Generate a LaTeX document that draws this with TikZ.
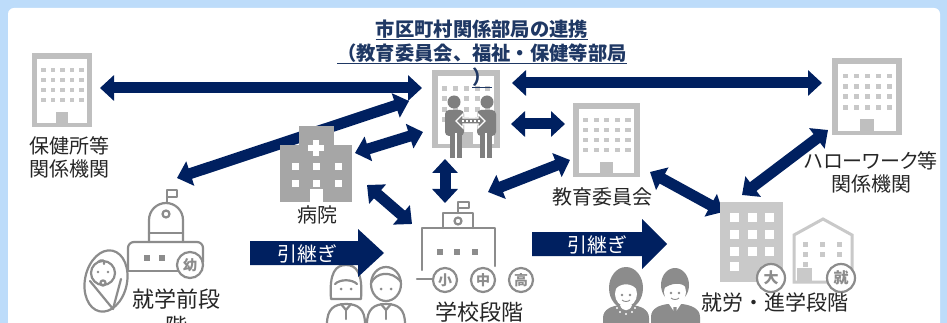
\documentclass[tikz,border=0pt]{standalone}
\usepackage{fontspec}
\setmainfont{Noto Sans CJK JP}
\newfontfamily\jpprop{Noto Sans CJK JP}[RawFeature=+palt]
\usetikzlibrary{arrows.meta}

\definecolor{navy}{HTML}{002060}
\definecolor{ttl}{HTML}{1F3864}
\definecolor{bgblue}{HTML}{BDDCFA}
\definecolor{bgray}{HTML}{BFBFBF}
\definecolor{wgray}{HTML}{C8C8C8}
\definecolor{hgray}{HTML}{A6A6A6}
\definecolor{dgray}{HTML}{7F7F7F}
\definecolor{ogray}{HTML}{8C8C8C}
\definecolor{lgray}{HTML}{C9C9C9}
\definecolor{txt}{HTML}{262626}

\tikzset{
  link/.style={draw=navy, line width=11pt,
    {Triangle[width=25pt,length=14pt]}-{Triangle[width=25pt,length=14pt]}},
  lbl/.style={text=txt, font=\fontsize{20}{23}\selectfont, align=center, inner sep=0pt},
  badge/.style={circle, draw=ogray, fill=white, line width=2.2pt, minimum size=#1,
    inner sep=0pt, text=ogray, font=\fontsize{14}{14}\selectfont\bfseries},
  badge/.default=24pt,
  ttlline/.style={text=ttl, font=\fontsize{19.3}{19.3}\selectfont\bfseries, inner sep=0pt, anchor=base},
  uline/.style={draw=ttl, line width=1.2pt},
  outl/.style={draw=ogray, line width=2.2pt, line cap=round, line join=round},
  handover/.style={fill=navy},
  hotext/.style={text=white, font=\fontsize{20}{20}\selectfont, inner sep=0pt},
}

% office building icon: left, top, width, height
\newcommand\drawoffice[4]{%
  \begin{scope}[shift={(#1,#2)},xscale=#3/60,yscale=#4/74]
    \fill[bgray] (0,0) rectangle (60,74);
    \fill[white] (5,6) rectangle (55,70);
    \foreach \cx in {9,18.5,28,37.5,47}{\foreach \cy in {15,25,35,45}{%
      \fill[wgray] (\cx,\cy) rectangle ++(4.5,4.5);}}
    \fill[bgray] (24,59) rectangle (36,70);
  \end{scope}}

\begin{document}
\begin{tikzpicture}[x=1pt,y=-1pt]
\useasboundingbox (0,0) rectangle (947,323);
\clip (0,0) rectangle (947,323);
\fill[bgblue] (0,0) rectangle (947,323);
\fill[white, rounded corners=6pt] (8,8) rectangle (940,340);

% ---- connector end points
\coordinate (hoken-e) at (100,88);
\coordinate (city-w)  at (422,88);
\coordinate (city-e)  at (512,83);
\coordinate (hello-w) at (822,83);
\coordinate (pre-ne)  at (177,178);
\coordinate (city-sw) at (409,101);
\coordinate (hosp-e)  at (355,153);
\coordinate (city-w2) at (423,132);
\coordinate (hosp-se) at (367,185);
\coordinate (school-nw) at (412,224);
\coordinate (city-s)  at (445,159);
\coordinate (school-n) at (445,203);
\coordinate (city-e2) at (511,124);
\coordinate (board-w) at (565,124);
\coordinate (school-ne) at (488,192);
\coordinate (board-sw) at (570,160);
\coordinate (board-se) at (650,172);
\coordinate (work-nw) at (723,212);
\coordinate (work-ne) at (742,195);
\coordinate (hello-sw) at (828,130);

% ---- two-way links
\draw[link] (hoken-e) -- (city-w);
\draw[link] (city-e) -- (hello-w);
\draw[link] (pre-ne) -- (city-sw);
\draw[link] (hosp-e) -- (city-w2);
\draw[link] (hosp-se) -- (school-nw);
\draw[link] (city-s) -- (school-n);
\draw[link] (city-e2) -- (board-w);
\draw[link] (school-ne) -- (board-sw);
\draw[link] (board-se) -- (work-nw);
\draw[link] (work-ne) -- (hello-sw);

% ---- office buildings
\drawoffice{32}{53}{60}{74}
\drawoffice{832}{58}{70}{77}
\drawoffice{573}{103}{67}{74}
\drawoffice{432}{70}{68}{78}

% ---- two staff members in the municipal office
\begin{scope}[dgray]
  \fill (454,102) circle (6.5);
  \fill (487,102) circle (6.5);
  \fill[rounded corners=4pt] (445,110) rectangle (464,136);
  \fill[rounded corners=4pt] (477,110) rectangle (496,136);
  \fill (450,132) rectangle (462,158);
  \fill (480,132) rectangle (492,158);
\end{scope}
\draw[white, line width=1.2pt] (456,133) -- (456,158) (486,133) -- (486,158);
\filldraw[fill=dgray, draw=white, line width=1.4pt]
  (456,121) -- (463,114) -- (463,118) -- (478,118) -- (478,114) -- (485,121)
  -- (478,128) -- (478,124) -- (463,124) -- (463,128) -- cycle;
\draw[white, line width=1.2pt, dash pattern=on 2pt off 2pt] (462,121) -- (480,121);

% ---- hospital
\fill[hgray] (299,126) rectangle (334,146);
\fill[hgray] (280,145) rectangle (352,202);
\fill[white] (313,140) rectangle (319,156);
\fill[white] (308,145) rectangle (324,151);
\foreach \wx in {292,313,335}{\foreach \wy in {163,180}{\fill[white] (\wx,\wy) rectangle ++(7,7);}}
\fill[white] (310,189) rectangle (323,202);

% ---- kindergarten and baby
\draw[outl] (167,203) -- (167,190) -- (177,190) -- (177,197) -- (167,197);
\draw[outl] (149,242) -- (149,220) arc (180:360:17) -- (183,242);
\draw[outl] (166,214) circle (3.5);
\draw[outl] (149,233) -- (183,233);
\draw[outl, rounded corners=6pt] (128,271) -- (128,242) -- (203,242) -- (203,262);
\draw[outl] (122,271) -- (180,271);
\fill[ogray] (144,255) rectangle (150,261);
\fill[ogray] (159,255) rectangle (165,261);
\node[badge=26pt] (you) at (190,265) {幼};
\draw[outl, fill=white, rotate around={-12:(106,281)}] (106,281) ellipse [x radius=21, y radius=31];
\draw[outl] (103,273) circle (12);
\draw[outl] (98,262) .. controls (101,259) and (106,260) .. (104,264);
\fill[ogray] (98,272) circle (1.4) (108,272) circle (1.4);
\draw[outl] (103,283) circle (2.6);
\draw[outl] (90,281) -- (113,309) -- (121,279);

% ---- school
\draw[outl] (458,213) -- (458,202) -- (469,202) -- (469,208) -- (458,208);
\draw[outl] (443,228) -- (443,213) -- (473,213) -- (473,228);
\draw[outl] (458,221) circle (3.5);
\draw[outl] (422,270) -- (422,228) -- (495,228) -- (495,266);
\draw[outl] (417,279) -- (434,279);
\foreach \wx in {437,454,472}{\fill[ogray] (\wx,249) rectangle ++(6,6);}
\node[badge] (sho) at (445,280) {小};
\node[badge] (chu) at (483,280) {中};
\node[badge] (ko)  at (521,280) {高};

% ---- two pupils
\draw[outl] (331,299) .. controls (329,272) and (336,265) .. (346,265)
  .. controls (356,265) and (363,272) .. (361,299) -- cycle;
\draw[outl] (335,284) .. controls (340,279) and (352,279) .. (357,284);
\fill[ogray] (341,289) circle (1.5) (351,289) circle (1.5);
\draw[outl] (386,284) ellipse [x radius=15, y radius=17];
\draw[outl] (371,283) .. controls (376,272) and (392,270) .. (401,282);
\fill[ogray] (381,289) circle (1.5) (391,289) circle (1.5);
\foreach \kx in {346,386}{
  \draw[outl] (\kx-19,324) .. controls (\kx-19,309) and (\kx-12,304) .. (\kx,304)
    .. controls (\kx+12,304) and (\kx+19,309) .. (\kx+19,324);
  \draw[outl] (\kx-5,304) -- (\kx,310) -- (\kx+5,304);
  \draw[outl] (\kx,310) -- (\kx,319);
}

% ---- hand-over arrows
\fill[handover] (250,241) -- (358,241) -- (358,229) -- (384,253) -- (358,277) -- (358,265) -- (250,265) -- cycle;
\node[hotext] (ho1) at (307,254) {引継ぎ};
\fill[handover] (532,232) -- (642,232) -- (642,219) -- (667,244) -- (642,269) -- (642,256) -- (532,256) -- cycle;
\node[hotext] (ho2) at (597,245) {引継ぎ};

% ---- young adults
\begin{scope}[ogray]
  \fill (626,288) ellipse [x radius=17, y radius=21];
  \fill[white] (626,294) ellipse [x radius=11, y radius=12.5];
  \fill (614,291) .. controls (615,276) and (637,276) .. (638,291) .. controls (633,282) and (619,282) .. cycle;
  \fill (622,295) circle (1.3) (630,295) circle (1.3);
  \fill (603,323) -- (603,318) .. controls (603,309) and (612,306) .. (620,305) -- (632,305)
     .. controls (640,306) and (649,309) .. (649,318) -- (649,323) -- cycle;
  \fill (675,285) ellipse [x radius=14, y radius=17];
  \fill[white] (675,292) ellipse [x radius=11, y radius=12.5];
  \fill (663,289) .. controls (662,273) and (688,273) .. (687,289) .. controls (683,281) and (670,283) .. cycle;
  \fill (671,293) circle (1.3) (679,293) circle (1.3);
  \fill (651,323) -- (651,317) .. controls (651,308) and (660,305) .. (668,304) -- (682,304)
     .. controls (690,305) and (700,308) .. (700,317) -- (700,323) -- cycle;
\end{scope}
\draw[ogray, line width=0.9pt] (622,300) .. controls (624,302) and (628,302) .. (630,300);
\draw[ogray, line width=0.9pt] (671,298) .. controls (673,300) and (677,300) .. (679,298);
\fill[white] (620,305) .. controls (622,312) and (630,312) .. (632,305) -- cycle;
\foreach \p in {(617,308),(620,312),(626,314),(632,312),(635,308)}{\fill[white] \p circle (1.1);}
\fill[white] (669,304) -- (675,313) -- (681,304) -- cycle;
\fill[ogray] (673.5,307) -- (676.5,307) -- (677,315) -- (675,318) -- (673,315) -- cycle;

% ---- workplace and college
\fill[lgray] (720,202) rectangle (783,282);
\foreach \wx in {730,748,765}{\foreach \wy in {213,230,247}{\fill[white] (\wx,\wy) rectangle ++(8.5,8.5);}}
\fill[white] (730,262) rectangle ++(8.5,8.5);
\draw[lgray, line width=3pt, line join=miter] (794,282) -- (794,235) -- (823,219) -- (852,235) -- (852,282) -- cycle;
\foreach \wx in {803,820,837}{\foreach \wy in {242,252}{\fill[lgray] (\wx,\wy) rectangle ++(5,5);}}
\fill[lgray] (803,262) rectangle ++(5,5);
\fill[lgray] (797,268) rectangle (812,282);
\node[badge=28pt, font=\fontsize{15}{15}\selectfont\bfseries] (dai) at (771,278) {大};
\node[badge=28pt, font=\fontsize{15}{15}\selectfont\bfseries] (shu) at (841,278) {就};

% ---- labels
\node[lbl] (hoken-t) at (69,157) {保健所等\\関係機関};
\node[lbl] (hello-t) at (871,172) {{\jpprop ハローワーク等}\\関係機関};
\node[lbl] (byoin-t) at (317,215) {病院};
\node[lbl] (kyoiku-t) at (602,197) {教育委員会};
\node[lbl, font=\fontsize{22}{27}\selectfont, anchor=north] (pre-t) at (176,289) {就学前段\\階};
\node[lbl, font=\fontsize{22}{26}\selectfont] (school-t) at (479,312) {学校段階};
\node[lbl, font=\fontsize{21}{24}\selectfont] (shuro-t) at (775,302) {就労・進学段階};

% ---- heading
\node[ttlline] (t1) at (482,37) {市区町村関係部局の連携};
\node[ttlline] (t2) at (482,61) {（教育委員会、福祉・保健等部局};
\node[ttlline] (t3) at (482,85) {）};
\foreach \t in {t1,t2,t3}{\draw[uline] ([yshift=-2.5pt]\t.base west) -- ([yshift=-2.5pt]\t.base east);}
\end{tikzpicture}
\end{document}
